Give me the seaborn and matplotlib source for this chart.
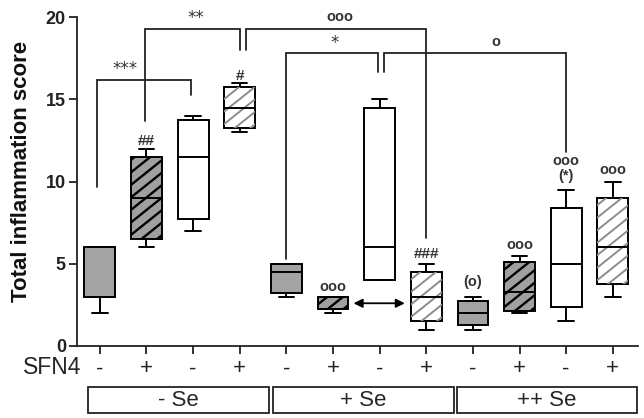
import numpy as np
import pandas as pd
import matplotlib
matplotlib.use("Agg")
import matplotlib.pyplot as plt
import seaborn as sns
from matplotlib.patches import Rectangle
from matplotlib.lines import Line2D
from matplotlib.transforms import IdentityTransform

# ---------------- data ----------------
se_groups = ["- Se", "+ Se", "++ Se"]
sfn4 = ["-", "+", "-", "+", "-", "+", "-", "+", "-", "+", "-", "+"]
w_low = [2, 6, 7, 13, 3, 2, 4, 1, 1, 2, 1.5, 3]
q1 = [3, 6.5, 7.75, 13.25, 3.25, 2.25, 4, 1.5, 1.25, 2.1, 2.35, 3.75]
median = [3, 9, 11.5, 14.5, 4.5, 2.25, 6, 3, 2, 3.3, 5, 6]
q3 = [6, 11.5, 13.75, 15.75, 5, 3, 14.5, 4.5, 2.75, 5.1, 8.4, 9]
w_high = [6, 12, 14, 16, 5, 3, 15, 5, 3, 5.5, 9.5, 10]
yticks = [0, 5, 10, 15, 20]

# per-box significance marks
box_marks = ["", "##", "", "#", "", "ooo", "", "###", "(o)", "ooo", "ooo\n(*)", "ooo"]

# --------------- styles ---------------
style_cycle = ["solid", "dark", "open", "light"]
fills = {"solid": "#a3a3a3", "dark": "#a0a0a0", "open": "white", "light": "white"}

sns.set_style("ticks")
plt.rcParams["font.family"] = ["Liberation Sans", "DejaVu Sans"]

keys = [f"b{i}" for i in range(len(sfn4))]
rows = []
for k, a, b, c, d, e in zip(keys, w_low, q1, median, q3, w_high):
    for v in (a, b, c, d, e):
        rows.append({"box": k, "score": v})
df = pd.DataFrame(rows)
palette = {k: fills[style_cycle[i % 4]] for i, k in enumerate(keys)}

fig = plt.figure(figsize=(6.44, 4.18), dpi=100)
ax = fig.add_axes([77 / 644, 1 - 346 / 418, (638 - 77) / 644, (346 - 17.3) / 418])

sns.boxplot(data=df, x="box", y="score", hue="box", order=keys, hue_order=keys,
            palette=palette, saturation=1, whis=(0, 100), width=0.66,
            linecolor="black", linewidth=1.4, showfliers=False, legend=False,
            ax=ax)

ax.set_xlim(-0.49, 11.54)
ax.set_ylim(0, 20)

for ln in ax.lines:
    ln.set_zorder(3)

# manual hatching (denser than matplotlib's built-in pattern)
step, slope = 12.5, 0.8
for p in list(ax.patches):
    ext = p.get_path().get_extents()
    idx = int(round((ext.x0 + ext.x1) / 2))
    st = style_cycle[idx % 4]
    if st not in ("dark", "light"):
        continue
    (X0, Y0), (X1, Y1) = ax.transData.transform([(ext.x0, ext.y0), (ext.x1, ext.y1)])
    col, lw = ("black", 1.7) if st == "dark" else ("#8c8c8c", 1.4)
    c = Y0 - slope * (X1 - X0) + 4
    while c < Y1:
        l = Line2D([X0, X1], [c, c + slope * (X1 - X0)], transform=IdentityTransform(),
                   color=col, lw=lw, zorder=p.get_zorder() + 0.01)
        l.set_clip_path(p)
        ax.add_artist(l)
        c += step
    p.set_zorder(p.get_zorder())

ax.set_yticks(yticks)
ax.set_yticklabels([str(t) for t in yticks], fontsize=13, fontweight="bold")
ax.set_xticks(range(len(sfn4)))
ax.set_xticklabels(sfn4, fontsize=16)
ax.tick_params(axis="both", length=6, width=1.3, colors="#222222")
ax.tick_params(axis="x", pad=3)
ax.tick_params(axis="y", pad=2)
ax.set_xlabel("")
ax.set_ylabel("Total inflammation score", fontsize=16, fontweight="bold", color="#111111")
ax.yaxis.set_label_coords(-0.08, 0.53)
for s in ("top", "right"):
    ax.spines[s].set_visible(False)
for s in ("left", "bottom"):
    ax.spines[s].set_linewidth(1.3)
    ax.spines[s].set_color("#222222")

# box outlines on top of hatching
for p in list(ax.patches):
    p.set_zorder(2)

# marks above boxes
mark_y = [None, 12.5, None, 16.4, None, 3.6, None, 5.6, 3.9, 6.15, 10.8, 10.7]
for i, (m, y) in enumerate(zip(box_marks, mark_y)):
    if m:
        fs = 11 if "#" in m else 10.5
        ax.text(i, y, m, ha="center", va="center", fontsize=fs, fontweight="bold",
                color="#333333", linespacing=1.15)

# brackets: (x_left, y_left, y_top, x_right, y_right, label, label_x)
lc = "#222222"
brackets = [
    (-0.07, 9.7, 16.2, 1.95, 15.3, "***", 0.55),
    (0.97, 13.7, 19.3, 3.01, 18.0, "**", 2.05),
    (3.13, 18.0, 19.3, 7.0, 6.6, "ooo", 5.15),
    (4.0, 5.3, 17.8, 5.97, 16.7, "*", 5.04),
    (6.1, 16.7, 17.8, 10.0, 11.8, "o", 8.5),
]
for xl, yl, yt, xr, yr, lab, lx in brackets:
    ax.plot([xl, xl, xr, xr], [yl, yt, yt, yr], color=lc, lw=1.3, clip_on=False,
            solid_joinstyle="miter", zorder=4)
    if "*" in lab:
        ax.text(lx, yt + 0.1, lab, ha="center", va="bottom", fontsize=12,
                family="DejaVu Sans", color="#333333", clip_on=False)
    else:
        ax.text(lx, yt + 0.3, lab, ha="center", va="bottom", fontsize=10.5,
                fontweight="bold", color="#333333", clip_on=False)

ax.annotate("", xy=(6.54, 2.6), xytext=(5.44, 2.6),
            arrowprops=dict(arrowstyle="<|-|>", color="black", lw=1.3,
                            mutation_scale=13, shrinkA=0, shrinkB=0))

# SFN4 label and Se group boxes
fig.text(81 / 644, 1 - 367.5 / 418, "SFN4", ha="right", va="center", fontsize=16.5)
group_px = [(88.3, 269.3), (272.7, 454.3), (456.7, 637.3)]
for (x0, x1), name in zip(group_px, se_groups):
    fig.patches.append(Rectangle((x0 / 644, 1 - 413.3 / 418), (x1 - x0) / 644,
                                 26 / 418, transform=fig.transFigure, fill=False,
                                 edgecolor="#222222", lw=1.3))
    fig.text((x0 + x1) / 2 / 644, 1 - 400.5 / 418, name, ha="center",
             va="center", fontsize=16)

fig.savefig("out.png", dpi=100)
